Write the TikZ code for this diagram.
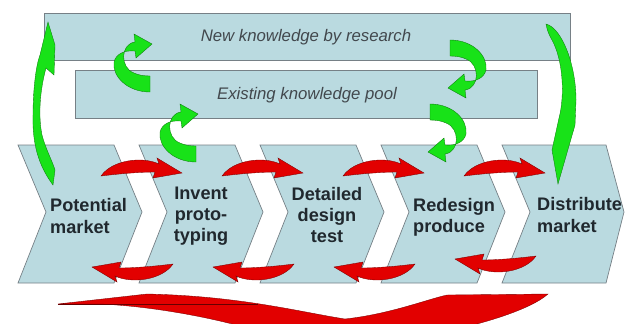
\documentclass[tikz,border=0pt]{standalone}
\usepackage{fontspec}
\setmainfont{Liberation Sans}
\definecolor{paneblue}{RGB}{186,218,224}
\definecolor{panegray}{RGB}{118,128,134}
\definecolor{turngreen}{RGB}{24,226,24}
\definecolor{turnred}{RGB}{226,0,0}
\definecolor{inkgray}{RGB}{32,40,46}
\tikzset{
    redarc/.pic={
        \filldraw[draw=turnred!55!black, fill=turnred, line width=0.3pt]
            (-26,-44) .. controls (-15,-60) and (15,-64) .. (32,-56)
            -- (30,-62) -- (55,-47) -- (26,-42) -- (28,-48)
            .. controls (12,-48) and (-10,-46) .. cycle;
    },
    greenarc/.pic={
        \filldraw[draw=turngreen!55!black, fill=turngreen, line width=0.3pt]
            (18,28) .. controls (-5,28) and (-20,12) .. (-18,-2)
            .. controls (-16,-10) and (-8,-14) .. (3,-13)
            -- (4,-6) -- (20,-20) -- (2,-30) -- (3,-22)
            .. controls (-12,-20) and (-12,4) .. (2,9)
            .. controls (6,11) and (12,12) .. (18,12) -- cycle;
    }
}
\begin{document}
\begin{tikzpicture}[x=0.03cm, y=-0.03cm]
    \tikzstyle{pane}=[draw=panegray, fill=paneblue, line width=0.6pt]
    \tikzstyle{stage}=[draw=panegray, fill=paneblue, line width=0.6pt]
    \tikzstyle{stagetext}=[inner sep=0pt, text=inkgray, font=\bfseries\fontsize{15.5}{18}\selectfont]
    \tikzstyle{pooltext}=[inner sep=0pt, text=inkgray!85, font=\itshape\fontsize{14.3}{17}\selectfont]
    \tikzstyle{bigturn}=[draw=turngreen!55!black, fill=turngreen, line width=0.3pt]
    \useasboundingbox (0,0) rectangle (628,323);

    \filldraw[pane] (44,13) rectangle (570,60);
    \filldraw[pane] (75,70) rectangle (537,118);
    \node[pooltext] (research) at (306,37) {New knowledge by research};
    \node[pooltext] (pool)     at (307,95) {Existing knowledge pool};

    \filldraw[stage] (18,145)  -- (114,145) -- (142,212) -- (114,283) -- (18,283)  -- (46,212)  -- cycle;
    \filldraw[stage] (139,145) -- (235,145) -- (263,212) -- (235,283) -- (139,283) -- (167,212) -- cycle;
    \filldraw[stage] (260,145) -- (356,145) -- (384,212) -- (356,283) -- (260,283) -- (288,212) -- cycle;
    \filldraw[stage] (381,145) -- (477,145) -- (505,212) -- (477,283) -- (381,283) -- (409,212) -- cycle;
    \filldraw[stage] (502,145) -- (606,145) -- (624,212) -- (606,283) -- (502,283) -- (530,212) -- cycle;

    \node[stagetext, anchor=west, align=left] (potential)  at (50,216)  {Potential\\market};
    \node[stagetext, align=center]            (invent)     at (201,216) {Invent\\proto-\\typing};
    \node[stagetext, align=center]            (detailed)   at (327,215) {Detailed\\design\\test};
    \node[stagetext, anchor=west, align=left] (redesign)   at (413,217) {Redesign\\produce};
    \node[stagetext, anchor=west, align=left] (distribute) at (537,215) {Distribute\\market};

    \pic at (127,220) {redarc};
    \pic at (248,220) {redarc};
    \pic at (369,220) {redarc};
    \pic at (490,220) {redarc};
    \pic[rotate=180] at (147,220) {redarc};
    \pic[rotate=180] at (268,220) {redarc};
    \pic[rotate=180] at (389,220) {redarc};
    \pic[rotate=180] at (510,212) {redarc};

    \pic at (132,64)  {greenarc};
    \pic at (178,134) {greenarc};
    \pic[rotate=180] at (468,68)  {greenarc};
    \pic[rotate=180] at (448,132) {greenarc};

    \filldraw[bigturn] (53,185) .. controls (42,170) and (32,150) .. (33,115)
                                .. controls (33,90) and (36,65) .. (40,55)
                                -- (48,22) -- (55,45) -- (54,75) -- (46,68)
                                .. controls (40,90) and (38,115) .. (42,135)
                                .. controls (46,150) and (52,160) .. (55,170) -- cycle;
    \filldraw[bigturn] (546,24) .. controls (562,28) and (576,65) .. (576,100)
                                -- (575,125) -- (558,184) -- (552,150) -- (559,118)
                                .. controls (565,95) and (563,60) .. (552,40)
                                .. controls (549,35) and (547,30) .. cycle;

    \begin{scope}
        \clip (0,0) rectangle (628,323);
        \filldraw[draw=turnred!55!black, fill=turnred, line width=0.3pt]
            (58,304) -- (147,294)
            .. controls (240,296) and (300,312) .. (345,319)
            .. controls (390,314) and (425,300) .. (447,295)
            -- (548,294)
            .. controls (530,310) and (480,325) .. (430,335)
            -- (270,335)
            .. controls (220,318) and (150,306) .. (100,304) -- cycle;
        \draw[turnred!45!black, line width=0.8pt] (58,304) -- (258,304);
    \end{scope}
\end{tikzpicture}
\end{document}
